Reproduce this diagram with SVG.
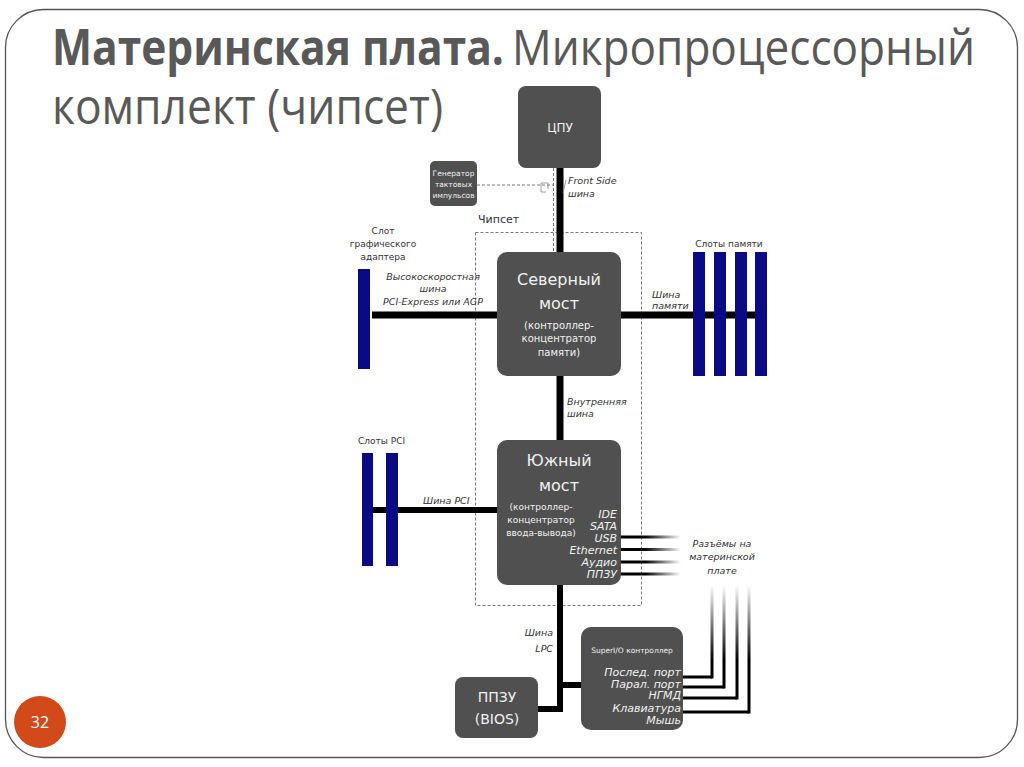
<svg xmlns="http://www.w3.org/2000/svg" width="1024" height="767" viewBox="0 0 1024 767">
<style>
.box{fill:#505050}
.bus{stroke:#000;fill:none}
.slot{fill:#0a0a85}
.wt{fill:#f0f0f0;font-family:"DejaVu Sans",sans-serif;text-anchor:middle}
.lbl{fill:#333;font-family:"DejaVu Sans",sans-serif;font-size:9px}
.it{fill:#333;font-family:"DejaVu Sans",sans-serif;font-size:9.5px;font-style:italic}
.iw{fill:#f0f0f0;font-family:"DejaVu Sans",sans-serif;font-size:11px;font-style:italic;text-anchor:end}
.title{fill:#595959;font-family:"Open Sans","Liberation Sans",sans-serif;font-size:50px}
</style>
<defs>
<linearGradient id="gh" x1="0" y1="0" x2="1" y2="0">
<stop offset="0" stop-color="#000"/><stop offset="0.4" stop-color="#000"/><stop offset="1" stop-color="#000" stop-opacity="0"/>
</linearGradient>
<linearGradient id="gv" gradientUnits="userSpaceOnUse" x1="0" y1="585" x2="0" y2="660">
<stop offset="0" stop-color="#000" stop-opacity="0"/><stop offset="1" stop-color="#000"/>
</linearGradient>
</defs>
<rect x="0" y="0" width="1024" height="767" fill="#fff"/>
<rect x="5.5" y="9.5" width="1012" height="748" rx="38" fill="none" stroke="#555" stroke-width="1.3"/>
<g id="title" transform="scale(0.88,1)">
<text class="title" x="59.1" y="65" font-weight="bold" textLength="513.6" lengthAdjust="spacingAndGlyphs">Материнская плата.</text>
<text class="title" x="581.8" y="65" textLength="526.1" lengthAdjust="spacingAndGlyphs">Микропроцессорный</text>
<text class="title" x="59.1" y="124" textLength="444.3" lengthAdjust="spacingAndGlyphs">комплект (чипсет)</text>
</g>
<g id="page"><circle cx="40" cy="722" r="26" fill="#d24a1a"/><text x="40" y="728" fill="#fff" font-family="'Open Sans',sans-serif" font-size="16" text-anchor="middle">32</text></g>

<g id="chipset"><rect x="475.5" y="232.5" width="166" height="373" fill="none" stroke="#777" stroke-dasharray="3,2"/><text x="478" y="223" fill="#333" font-family="DejaVu Sans,sans-serif" font-size="11">Чипсет</text></g>

<g id="connectors">
<line class="bus" x1="560" y1="168" x2="560" y2="252" stroke-width="7"/>
<line class="bus" x1="560" y1="376" x2="560" y2="440" stroke-width="7"/>
<line class="bus" x1="372" y1="315" x2="497" y2="315" stroke-width="7"/>
<line class="bus" x1="621" y1="315" x2="765" y2="315" stroke-width="7"/>
<line class="bus" x1="373" y1="510" x2="497" y2="510" stroke-width="6"/>
<polyline class="bus" points="560,585 560,709 538,709" stroke-width="6"/>
<line class="bus" x1="560" y1="685" x2="581" y2="685" stroke-width="6"/>
<line x1="477" y1="185" x2="553" y2="185" stroke="#777" stroke-dasharray="3,2"/>
<line x1="553.5" y1="168" x2="553.5" y2="252" stroke="#777" stroke-dasharray="3,2"/>
<path d="M541,183 h7 v6 M541,183 v9 h5" fill="none" stroke="#888" stroke-width="0.8"/>
<line x1="566" y1="180" x2="563" y2="193" stroke="#888" stroke-width="0.8"/>
<rect x="621" y="535.5" width="60" height="3" fill="url(#gh)"/>
<rect x="621" y="548" width="60" height="3" fill="url(#gh)"/>
<rect x="621" y="560.5" width="60" height="3" fill="url(#gh)"/>
<rect x="621" y="572.5" width="60" height="3" fill="url(#gh)"/>
<polyline points="683,677 712,677" stroke="#000" stroke-width="3" fill="none"/>
<polyline points="683,687 724,687" stroke="#000" stroke-width="3" fill="none"/>
<polyline points="683,698 737,698" stroke="#000" stroke-width="3" fill="none"/>
<polyline points="683,712 749,712" stroke="#000" stroke-width="3" fill="none"/>
<rect x="710.5" y="585" width="3" height="93.5" fill="url(#gv)"/>
<rect x="722.5" y="585" width="3" height="103.5" fill="url(#gv)"/>
<rect x="735.5" y="585" width="3" height="114.5" fill="url(#gv)"/>
<rect x="747.5" y="585" width="3" height="128.5" fill="url(#gv)"/>
</g>

<g id="cpu"><rect class="box" x="518" y="86" width="83" height="82" rx="8"/><text class="wt" x="560" y="132" font-size="12">ЦПУ</text></g>
<g id="clock"><rect class="box" x="430" y="161" width="47" height="45" rx="5"/>
<text class="wt" x="453.5" y="176" font-size="7.5">Генератор</text>
<text class="wt" x="453.5" y="187" font-size="7.5">тактовых</text>
<text class="wt" x="453.5" y="198" font-size="7.5">импульсов</text></g>
<text class="it" x="568" y="184">Front Side</text><text class="it" x="568" y="197">шина</text>

<g id="northbridge"><rect class="box" x="497" y="252" width="124" height="124" rx="10"/>
<text class="wt" x="559" y="285" font-size="16">Северный</text>
<text class="wt" x="559" y="309" font-size="16">мост</text>
<text class="wt" x="559" y="329" font-size="10">(контроллер-</text>
<text class="wt" x="559" y="342" font-size="10">концентратор</text>
<text class="wt" x="559" y="356" font-size="10">памяти)</text></g>

<g id="agp"><rect class="slot" x="358" y="269" width="12" height="100"/>
<text class="lbl" x="383" y="234" text-anchor="middle">Слот</text>
<text class="lbl" x="383" y="247" text-anchor="middle">графического</text>
<text class="lbl" x="383" y="260" text-anchor="middle">адаптера</text>
<text class="it" x="433" y="280" text-anchor="middle">Высокоскоростная</text>
<text class="it" x="433" y="292" text-anchor="middle">шина</text>
<text class="it" x="433" y="305" text-anchor="middle">PCI-Express или AGP</text></g>

<g id="memory">
<rect class="slot" x="693" y="252" width="12" height="124"/>
<rect class="slot" x="714" y="252" width="12" height="124"/>
<rect class="slot" x="735" y="252" width="12" height="124"/>
<rect class="slot" x="755" y="252" width="12" height="124"/>
<text class="lbl" x="729" y="247" text-anchor="middle">Слоты памяти</text>
<text class="it" x="652" y="298">Шина</text><text class="it" x="652" y="309">памяти</text></g>

<text class="it" x="567" y="405">Внутренняя</text><text class="it" x="567" y="417">шина</text>

<g id="pci"><rect class="slot" x="362" y="453" width="11" height="113"/><rect class="slot" x="386" y="453" width="12" height="113"/>
<text class="lbl" x="358" y="444">Слоты PCI</text>
<text class="it" x="423" y="504">Шина PCI</text></g>

<g id="southbridge"><rect class="box" x="497" y="440" width="124" height="145" rx="10"/>
<text class="wt" x="559" y="466" font-size="16">Южный</text>
<text class="wt" x="559" y="491" font-size="16">мост</text>
<text class="wt" x="541" y="510" font-size="9">(контроллер-</text>
<text class="wt" x="541" y="523" font-size="9">концентратор</text>
<text class="wt" x="541" y="536" font-size="9">ввода-вывода)</text>
<text class="iw" x="617" y="518">IDE</text>
<text class="iw" x="617" y="530">SATA</text>
<text class="iw" x="617" y="542">USB</text>
<text class="iw" x="617" y="554">Ethernet</text>
<text class="iw" x="617" y="566">Аудио</text>
<text class="iw" x="617" y="578">ППЗУ</text></g>

<g id="connectors-label"><text class="it" x="722" y="547" text-anchor="middle" font-size="11">Разъёмы на</text>
<text class="it" x="722" y="560" text-anchor="middle" font-size="11">материнской</text>
<text class="it" x="722" y="574" text-anchor="middle" font-size="11">плате</text></g>

<text class="it" x="553" y="636" text-anchor="end">Шина</text><text class="it" x="553" y="652" text-anchor="end">LPC</text>

<g id="bios"><rect class="box" x="455" y="677" width="83" height="61" rx="8"/>
<text class="wt" x="497" y="702" font-size="14">ППЗУ</text>
<text class="wt" x="497" y="724" font-size="14">(BIOS)</text></g>

<g id="superio"><rect class="box" x="581" y="627" width="102" height="103" rx="10"/>
<text class="wt" x="632" y="653" font-size="7.5" fill="#bbb">SuperI/O контроллер</text>
<text class="iw" x="681" y="676">Послед. порт</text>
<text class="iw" x="681" y="688">Парал. порт</text>
<text class="iw" x="681" y="699">НГМД</text>
<text class="iw" x="681" y="712">Клавиатура</text>
<text class="iw" x="681" y="724">Мышь</text></g>
</svg>
